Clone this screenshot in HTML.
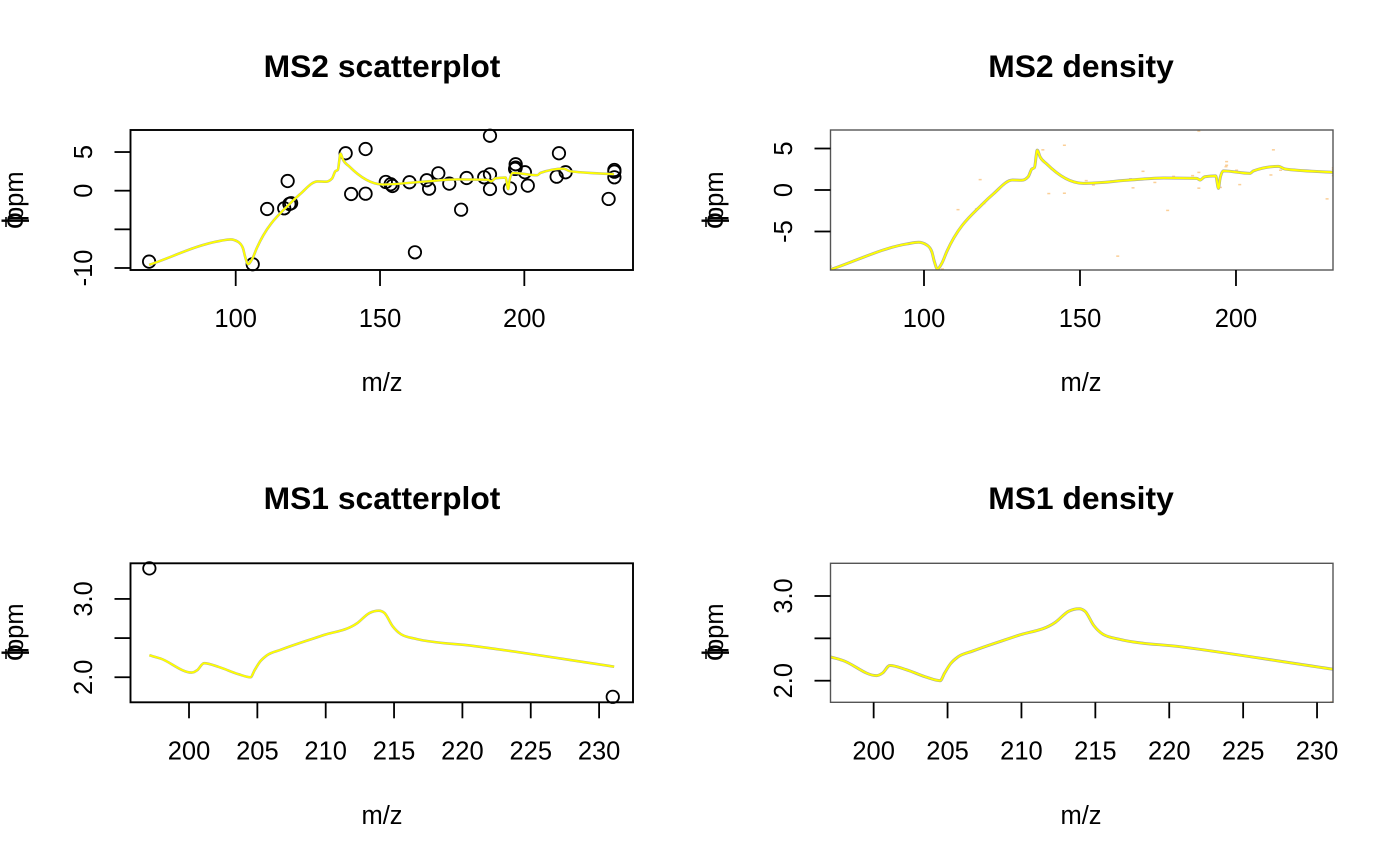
<!DOCTYPE html>
<html lang="en">
<head>
<meta charset="utf-8">
<title>Mass error diagnostic plots</title>
<style>
html,body{margin:0;padding:0;background:#fff;}
svg{display:block;}
text{font-family:"Liberation Sans",sans-serif;fill:#000;}
.title{font-size:31.8px;font-weight:bold;text-anchor:middle;}
.lab{font-size:25.5px;text-anchor:middle;}
.ppm{font-size:25.5px;}
.phi{font-size:30px;}
</style>
</head>
<body>
<svg id="chart" xmlns="http://www.w3.org/2000/svg" width="1400" height="865" viewBox="0 0 1400 865">
  <rect width="1400" height="865" fill="#fff"/>
  <defs>
    <clipPath id="clip-ms2-density"><rect x="830.5" y="130" width="502.5" height="140"/></clipPath>
    <clipPath id="clip-ms1-density"><rect x="830.5" y="563.3" width="502.5" height="139"/></clipPath>
  </defs>

  <g id="p-ms2s">
    <text class="title" x="382" y="77">MS2 scatterplot</text>
    <text class="lab" x="382" y="391">m/z</text>
    <g>
      <text class="ppm" transform="translate(23,221) rotate(-90)">ppm</text>
      <text class="phi" transform="translate(23,229) rotate(-90)">ϕ</text>
      <line x1="6" x2="6" y1="217" y2="227" stroke="#000" stroke-width="1.6"/>
    </g>
  </g>

  <g id="p-ms2d">
    <text class="title" x="1081" y="77">MS2 density</text>
    <text class="lab" x="1081" y="391">m/z</text>
    <g>
      <text class="ppm" transform="translate(723,221) rotate(-90)">ppm</text>
      <text class="phi" transform="translate(723,229) rotate(-90)">ϕ</text>
      <line x1="706" x2="706" y1="217" y2="227" stroke="#000" stroke-width="1.6"/>
    </g>
  </g>

  <g id="p-ms1s">
    <text class="title" x="382" y="509">MS1 scatterplot</text>
    <text class="lab" x="382" y="824">m/z</text>
    <g>
      <text class="ppm" transform="translate(23,653) rotate(-90)">ppm</text>
      <text class="phi" transform="translate(23,661) rotate(-90)">ϕ</text>
      <line x1="6" x2="6" y1="649" y2="659" stroke="#000" stroke-width="1.6"/>
    </g>
  </g>

  <g id="p-ms1d">
    <text class="title" x="1081" y="509">MS1 density</text>
    <text class="lab" x="1081" y="824">m/z</text>
    <g>
      <text class="ppm" transform="translate(723,653) rotate(-90)">ppm</text>
      <text class="phi" transform="translate(723,661) rotate(-90)">ϕ</text>
      <line x1="706" x2="706" y1="649" y2="659" stroke="#000" stroke-width="1.6"/>
    </g>
  </g>
</svg>

<script>
// ---- data ----
const ms2PointMz  = [70,105.9,110.9,116.8,118,119.2,118.6,138.1,140,145,145,152,153.7,154.3,160.2,162.1,166.2,167,170.2,174,178.1,180,186.1,188.1,188.1,188.1,195,197,197,196.8,200.2,201.2,211.2,212,214.3,229.2,231.2,231.2,231.2];
const ms2PointPpm = [-9.18,-9.52,-2.37,-2.28,1.25,-1.63,-1.72,4.84,-0.43,5.39,-0.39,1.13,0.83,0.61,1.09,-7.97,1.35,0.26,2.25,0.91,-2.46,1.64,1.73,2.12,0.22,7.11,0.31,3.42,2.98,2.81,2.38,0.65,1.81,4.84,2.38,-1.07,2.68,2.46,1.73];
const ms2CurveMz  = [70,94.5,98.2,100.9,102.5,103.3,104.3,105.7,107.3,119,122.2,128.4,131.3,133.4,134.5,135.4,136.3,137.2,139.3,151,166,176.7,187.4,188.5,190,193.5,194.4,194.9,196,204.5,205.6,213.6,215.7,231];
const ms2CurvePpm = [-9.6,-6.5,-6.3,-6.63,-7.43,-8.6,-9.5,-8.84,-7.43,-1.6,-0.48,1.2,1.17,1.6,2.5,2.7,4.8,4.0,3.15,0.8,1.2,1.45,1.4,1.2,1.6,1.7,0.2,1.4,2.3,2.0,2.3,2.85,2.53,2.13];
const ms1PointMz  = [197.1,231];
const ms1PointPpm = [3.39,1.75];
const ms1CurveMz  = [197.1,197.9,200.2,200.6,201.1,202.2,203.6,204.5,204.8,205.2,205.7,206.7,209.7,212.3,213.2,213.9,214.3,214.9,215.5,216.6,220.8,231.1];
const ms1CurvePpm = [2.28,2.24,2.06,2.09,2.18,2.13,2.04,2.0,2.09,2.2,2.28,2.35,2.53,2.69,2.82,2.85,2.82,2.65,2.55,2.49,2.40,2.135];
const ms2ScatterXTicks = [100,150,200];
const ms2ScatterYTicks = [-10,-5,0,5];
const ms2ScatterYLabels = ["-10","","0","5"];
const ms2DensityXTicks = [100,150,200];
const ms2DensityYTicks = [-5,0,5];
const ms2DensityYLabels = ["-5","0","5"];
const ms1XTicks = [200,205,210,215,220,225,230];
const ms1YTicks = [2,2.5,3];
const ms1YLabels = ["2.0","","3.0"];

const NS = "http://www.w3.org/2000/svg";

function scale(d0, d1, r0, r1) {
  return function (v) { return r0 + (v - d0) / (d1 - d0) * (r1 - r0); };
}

function node(parent, tag, attrs) {
  const el = document.createElementNS(NS, tag);
  for (const k in attrs) el.setAttribute(k, attrs[k]);
  parent.appendChild(el);
  return el;
}

// monotone cubic (weighted secant tangents, limited) through the scaled points
function smoothPath(xs, ys) {
  const n = xs.length, d = [], h = [], t = [];
  for (let i = 0; i < n - 1; i++) {
    h.push(xs[i + 1] - xs[i]);
    d.push((ys[i + 1] - ys[i]) / h[i]);
  }
  t.push(d[0]);
  for (let i = 1; i < n - 1; i++) {
    const s0 = d[i - 1], s1 = d[i];
    const m = (s0 * h[i] + s1 * h[i - 1]) / (h[i - 1] + h[i]);
    const lim = Math.min(Math.abs(s0), Math.abs(s1), 0.5 * Math.abs(m));
    t.push(s0 * s1 <= 0 ? 0 : (Math.sign(s0) + Math.sign(s1)) * lim);
  }
  t.push(d[n - 2]);
  let p = "M" + xs[0].toFixed(2) + " " + ys[0].toFixed(2);
  for (let i = 0; i < n - 1; i++) {
    const k = h[i] / 3;
    p += "C" + (xs[i] + k).toFixed(2) + " " + (ys[i] + t[i] * k).toFixed(2) + " " +
         (xs[i + 1] - k).toFixed(2) + " " + (ys[i + 1] - t[i + 1] * k).toFixed(2) + " " +
         xs[i + 1].toFixed(2) + " " + ys[i + 1].toFixed(2);
  }
  return p;
}

function drawPanel(cfg) {
  const g = document.getElementById(cfg.id);
  const sx = scale(cfg.xDomain[0], cfg.xDomain[1], cfg.left, cfg.left + 502.5);
  const sy = scale(cfg.yDomain[0], cfg.yDomain[1], cfg.bottom, cfg.top);

  // density panels: faint dots; scatter panels: open circles
  if (cfg.density) {
    cfg.ptX.forEach(function (v, i) {
      const dot = node(g, "rect", {
        x: sx(v) - 1.5, y: sy(cfg.ptY[i]) - 0.75, width: 3, height: 1.5,
        fill: "#f7a030", opacity: 0.5, "clip-path": "url(#" + cfg.clip + ")"
      });
      
      
    });
  } else {
    cfg.ptX.forEach(function (v, i) {
      const c = node(g, "circle", {
        cx: sx(v), cy: sy(cfg.ptY[i]), r: 6.2, fill: "none", stroke: "#000", "stroke-width": 1.8
      });
      
      
    });
  }

  // fit curve: grey edge + yellow core
  const path = smoothPath(cfg.curveX.map(sx), cfg.curveY.map(sy));
  const edge = node(g, "path", { d: path, fill: "none", stroke: "#a8a8a0", "stroke-width": cfg.density ? 3 : 2.6, "stroke-linejoin": "round" });
  
  
  const line = node(g, "path", { d: path, fill: "none", stroke: "#ffff00", "stroke-width": 1.9, "stroke-linejoin": "round" });
  
  
  if (cfg.clip) {
    edge.setAttribute("clip-path", "url(#" + cfg.clip + ")");
    line.setAttribute("clip-path", "url(#" + cfg.clip + ")");
  }

  // plot frame
  const frame = node(g, "rect", {
    x: cfg.left, y: cfg.top, width: 502.5, height: cfg.bottom - cfg.top,
    fill: "none", stroke: cfg.density ? "#555" : "#000", "stroke-width": cfg.density ? 1.4 : 1.9
  });
  
  

  // x axis
  cfg.xTicks.forEach(function (v) {
    const x = sx(v);
    const tick = node(g, "line", { x1: x, x2: x, y1: cfg.bottom, y2: cfg.bottom + 16, stroke: "#000", "stroke-width": 1.8 });
    
    
    const label = node(g, "text", { x: x, y: cfg.bottom + 57, "class": "lab" });
    label.textContent = String(v);
    
    
  });

  // y axis
  cfg.yTicks.forEach(function (v, i) {
    const y = sy(v);
    const tick = node(g, "line", { x1: cfg.left - 16, x2: cfg.left, y1: y, y2: y, stroke: "#000", "stroke-width": 1.8 });
    
    
    if (cfg.yLabels[i]) {
      const label = node(g, "text", { "class": "lab", transform: "translate(" + (cfg.left - 38.5) + "," + y + ") rotate(-90)" });
      label.textContent = cfg.yLabels[i];
      
      
    }
  });
}

drawPanel({ id: "p-ms2s", left: 130.5, top: 130, bottom: 270, density: false,
  xDomain: [63.55, 237.65], yDomain: [-10.26, 7.85],
  ptX: ms2PointMz, ptY: ms2PointPpm, curveX: ms2CurveMz, curveY: ms2CurvePpm,
  xTicks: ms2ScatterXTicks, yTicks: ms2ScatterYTicks, yLabels: ms2ScatterYLabels });

drawPanel({ id: "p-ms2d", left: 830.5, top: 130, bottom: 270, density: true, clip: "clip-ms2-density",
  xDomain: [70.03, 231.1], yDomain: [-9.64, 7.23],
  ptX: ms2PointMz, ptY: ms2PointPpm, curveX: ms2CurveMz, curveY: ms2CurvePpm,
  xTicks: ms2DensityXTicks, yTicks: ms2DensityYTicks, yLabels: ms2DensityYLabels });

drawPanel({ id: "p-ms1s", left: 130.5, top: 563.3, bottom: 702.3, density: false,
  xDomain: [195.72, 232.48], yDomain: [1.68, 3.455],
  ptX: ms1PointMz, ptY: ms1PointPpm, curveX: ms1CurveMz, curveY: ms1CurvePpm,
  xTicks: ms1XTicks, yTicks: ms1YTicks, yLabels: ms1YLabels });

drawPanel({ id: "p-ms1d", left: 830.5, top: 563.3, bottom: 702.3, density: true, clip: "clip-ms1-density",
  xDomain: [197.08, 231.08], yDomain: [1.745, 3.386],
  ptX: ms1PointMz, ptY: ms1PointPpm, curveX: ms1CurveMz, curveY: ms1CurvePpm,
  xTicks: ms1XTicks, yTicks: ms1YTicks, yLabels: ms1YLabels });
</script>
</body>
</html>
